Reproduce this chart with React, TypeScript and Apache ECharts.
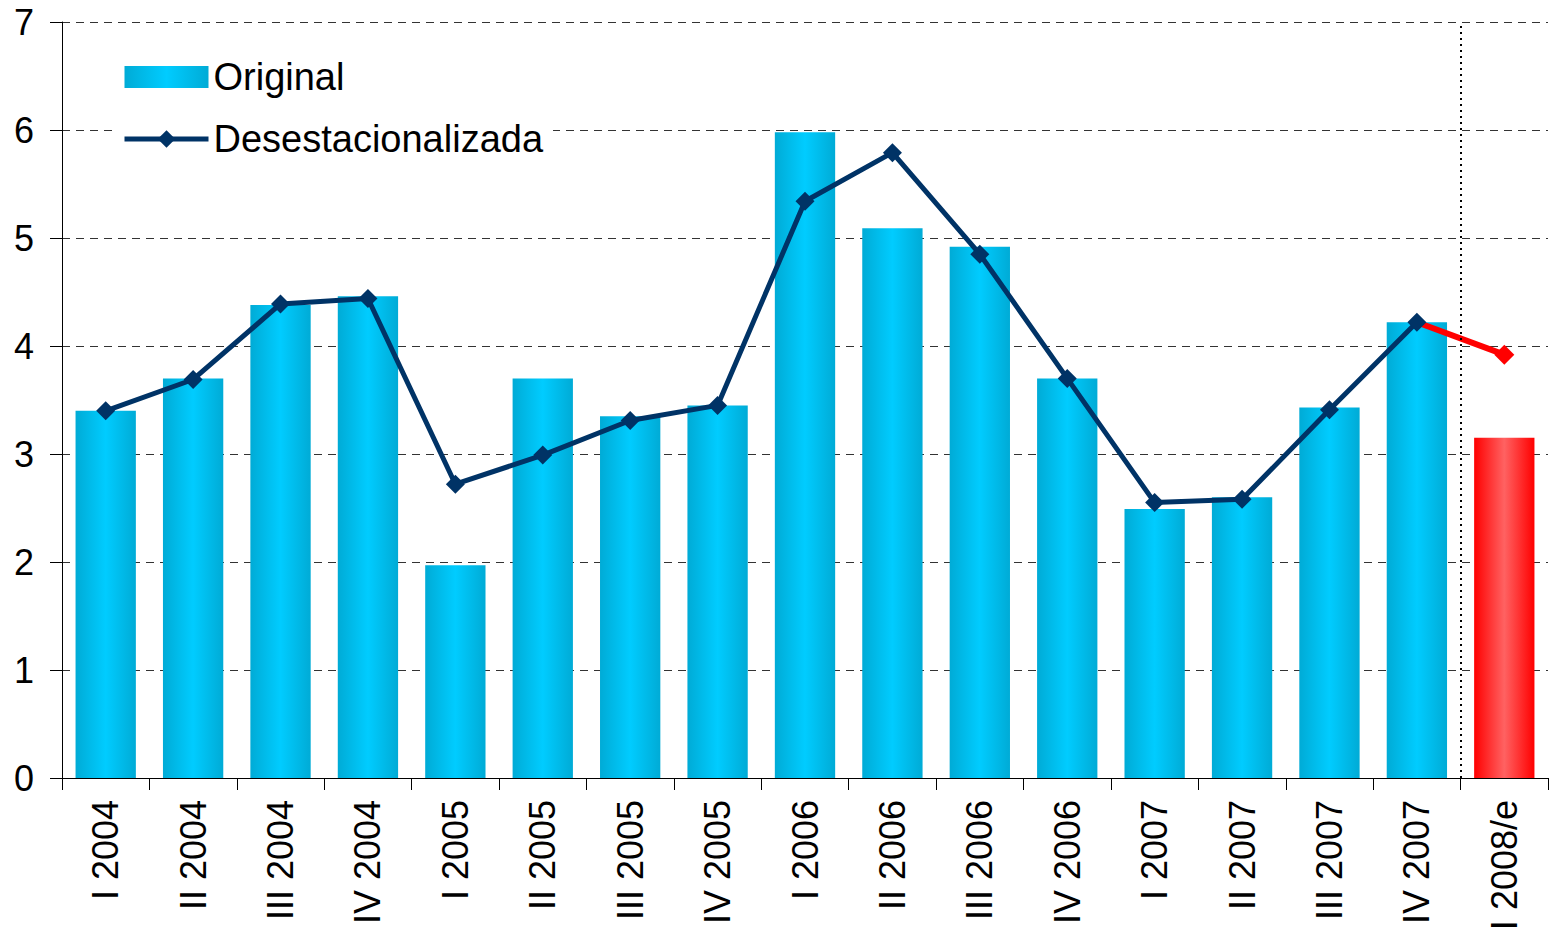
import React, { useEffect, useRef } from "react";
import * as echarts from "echarts";

const categories = [
  "I 2004", "II 2004", "III 2004", "IV 2004",
  "I 2005", "II 2005", "III 2005", "IV 2005",
  "I 2006", "II 2006", "III 2006", "IV 2006",
  "I 2007", "II 2007", "III 2007", "IV 2007",
  "I 2008/e",
];
const original = [3.40, 3.70, 4.38, 4.46, 1.97, 3.70, 3.35, 3.45, 5.98, 5.09, 4.92, 3.70, 2.49, 2.60, 3.43, 4.22, 3.15];
const desest = [3.40, 3.69, 4.39, 4.44, 2.72, 2.99, 3.31, 3.45, 5.34, 5.79, 4.85, 3.70, 2.55, 2.58, 3.41, 4.22, null];
const estimate = [null, null, null, null, null, null, null, null, null, null, null, null, null, null, null, 4.22, 3.92];
const yTicks = [0, 1, 2, 3, 4, 5, 6, 7];
const separatorAt = 16;

const FONT = "Liberation Sans, Arial, sans-serif";

const blueGrad = new echarts.graphic.LinearGradient(0, 0, 1, 0, [
  { offset: 0, color: "#00ABD6" },
  { offset: 0.5, color: "#00CCFF" },
  { offset: 1, color: "#00ABD6" },
]);
const redGrad = new echarts.graphic.LinearGradient(0, 0, 1, 0, [
  { offset: 0, color: "#FF0000" },
  { offset: 0.5, color: "#FF6262" },
  { offset: 1, color: "#FF0000" },
]);

export default function App() {
  const ref = useRef<HTMLDivElement>(null);
  useEffect(() => {
    const chart = echarts.init(ref.current!, null, { renderer: "svg" });
    const lastIdx = categories.length - 1;
    chart.setOption({
      animation: false,
      backgroundColor: "#ffffff",
      textStyle: { fontFamily: FONT },
      grid: { left: 62, right: 1, top: 22, bottom: 164, containLabel: false },
      legend: {
        left: 116,
        top: 52,
        orient: "vertical",
        itemWidth: 84,
        itemHeight: 22,
        itemGap: 24,
        padding: [6, 10, 6, 6],
        backgroundColor: "#ffffff",
        textStyle: { fontSize: 38, color: "#000", fontFamily: FONT, padding: [0, 0, 0, 0] },
        data: [
          { name: "Original", icon: "rect", itemStyle: { color: blueGrad } },
          { name: "Desestacionalizada", lineStyle: { width: 5, color: "#003366" }, itemStyle: { color: "#003366" } },
        ],
      },
      xAxis: [
        {
          type: "category",
          data: categories,
          axisLine: { lineStyle: { color: "#000", width: 1 } },
          axisTick: { show: true, length: 12, lineStyle: { color: "#000" } },
          axisLabel: { rotate: 90, fontSize: 36, color: "#000", margin: 22, fontFamily: FONT, interval: 0 },
        },
        { type: "value", min: 0, max: categories.length, show: false },
      ],
      yAxis: {
        type: "value",
        min: yTicks[0],
        max: yTicks[yTicks.length - 1],
        interval: 1,
        axisLine: { show: true, lineStyle: { color: "#000", width: 1 } },
        axisTick: { show: true, length: 12, lineStyle: { color: "#000" } },
        axisLabel: { fontSize: 36, color: "#000", margin: 28, fontFamily: FONT },
        splitLine: { show: true, lineStyle: { color: "#333", type: [8, 6], width: 1 } },
      },
      series: [
        {
          name: "Original",
          type: "bar",
          barCategoryGap: "31%",
          data: original.map((v, i) => ({
            value: v,
            itemStyle: { color: i === lastIdx ? redGrad : blueGrad },
          })),
          z: 2,
        },
        {
          name: "Estimada",
          type: "line",
          data: estimate.map((v, i) => (v !== null && i !== lastIdx ? { value: v, symbol: "none" } : v)),
          symbol: "diamond",
          symbolSize: 20,
          lineStyle: { color: "#FF0000", width: 6 },
          itemStyle: { color: "#FF0000" },
          z: 3,
        },
        {
          name: "Desestacionalizada",
          type: "line",
          data: desest,
          symbol: "diamond",
          symbolSize: 19,
          lineStyle: { color: "#003366", width: 5 },
          itemStyle: { color: "#003366" },
          z: 4,
        },
        {
          name: "sep",
          type: "line",
          xAxisIndex: 1,
          data: [],
          markLine: {
            silent: true,
            symbol: "none",
            label: { show: false },
            lineStyle: { color: "#000", type: [2, 4], width: 2 },
            data: [[{ coord: [separatorAt, 0] }, { coord: [separatorAt, 7] }]],
          },
        },
      ],
    });
    return () => chart.dispose();
  }, []);
  return <div ref={ref} style={{ position: "fixed", left: 0, top: 0, width: 1549, height: 942 }} />;
}
